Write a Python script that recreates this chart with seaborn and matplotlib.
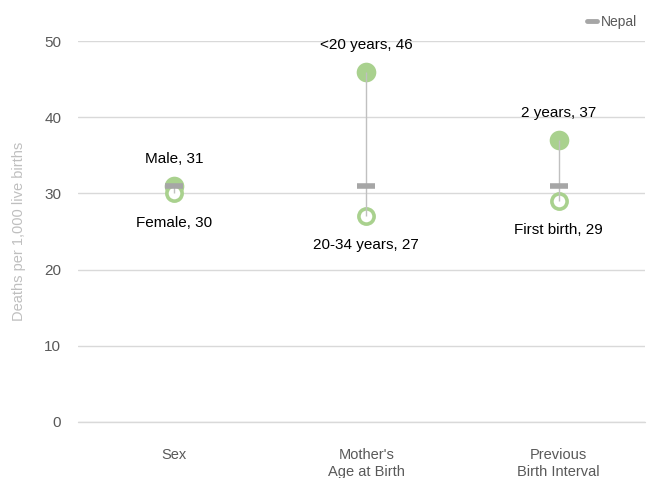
import matplotlib
matplotlib.use("Agg")
import matplotlib.pyplot as plt
import seaborn as sns
import pandas as pd
from matplotlib.lines import Line2D

categories = ["Sex", "Mother's\nAge at Birth", "Previous\nBirth Interval"]
high_labels = ["Male", "<20 years", "2 years"]
high_values = [31, 46, 37]
low_labels = ["Female", "20-34 years", "First birth"]
low_values = [30, 27, 29]
nepal_values = [31, 31, 31]
yticks = [0, 10, 20, 30, 40, 50]

df = pd.DataFrame({"cat": categories, "high": high_values, "low": low_values,
                   "nepal": nepal_values})

sns.set_theme(style="white")
plt.rcParams['font.family'] = ['Liberation Sans', 'DejaVu Sans']

GREEN = "#A9D18E"
GREY_DASH = "#A6A6A6"
WHISK = "#C0C0C0"
TICK = "#595959"

fig = plt.figure(figsize=(6.47, 4.78), dpi=100)
ax = fig.add_axes([78/647, (478-422)/478, (645-78)/647, (422-41)/478])

# high filled circles
sns.scatterplot(data=df, x="cat", y="high", ax=ax, color=GREEN, s=200,
                edgecolor=GREEN, linewidth=0, zorder=3)
# low rings
sns.scatterplot(data=df, x="cat", y="low", ax=ax, color="white", s=120,
                edgecolor=GREEN, linewidth=2.6, zorder=3)
# whiskers
xs = list(range(len(categories)))
ax.vlines(xs, df["low"], df["high"], color=WHISK, linewidth=1.0, zorder=4)
# Nepal dash
sns.scatterplot(data=df, x="cat", y="nepal", ax=ax, marker="_", s=170,
                color=GREY_DASH, linewidth=4, zorder=5)

for i in xs:
    ax.annotate(f"{high_labels[i]}, {high_values[i]}", (i, high_values[i]),
                xytext=(0, 19.5), textcoords="offset points", ha="center",
                va="center", fontsize=11, color="black")
    ax.annotate(f"{low_labels[i]}, {low_values[i]}", (i, low_values[i]),
                xytext=(0, -21), textcoords="offset points", ha="center",
                va="center", fontsize=11, color="black")

ax.set_xlim(-0.5, 2.45)
ax.set_ylim(-0.06, 50.06)
ax.set_yticks(yticks)
ax.yaxis.grid(True, color="#D9D9D9", linewidth=1.0)
ax.axhline(yticks[0], color="#D9D9D9", linewidth=1.0, zorder=0.5, clip_on=False)
ax.set_axisbelow(True)
for s in ax.spines.values():
    s.set_visible(False)
ax.tick_params(axis="x", length=0, pad=19, labelsize=10.5, labelcolor=TICK)
ax.tick_params(axis="y", length=0, pad=12, labelsize=11, labelcolor=TICK)
for lbl in ax.get_xticklabels():
    lbl.set_linespacing(1.25)
ax.set_xlabel("")
ax.set_ylabel("Deaths per 1,000 live births", fontsize=10.5, color="#BFBFBF",
              labelpad=13)

handle = Line2D([0], [0], color=GREY_DASH, linewidth=3.5, marker=None)
fig.legend([handle], ["Nepal"], loc="center right",
           bbox_to_anchor=(643/647, 1 - 22/478), frameon=False,
           fontsize=10, labelcolor=TICK, handlelength=0.7, handletextpad=0.3,
           borderaxespad=0)

fig.savefig("out.png", dpi=100)
